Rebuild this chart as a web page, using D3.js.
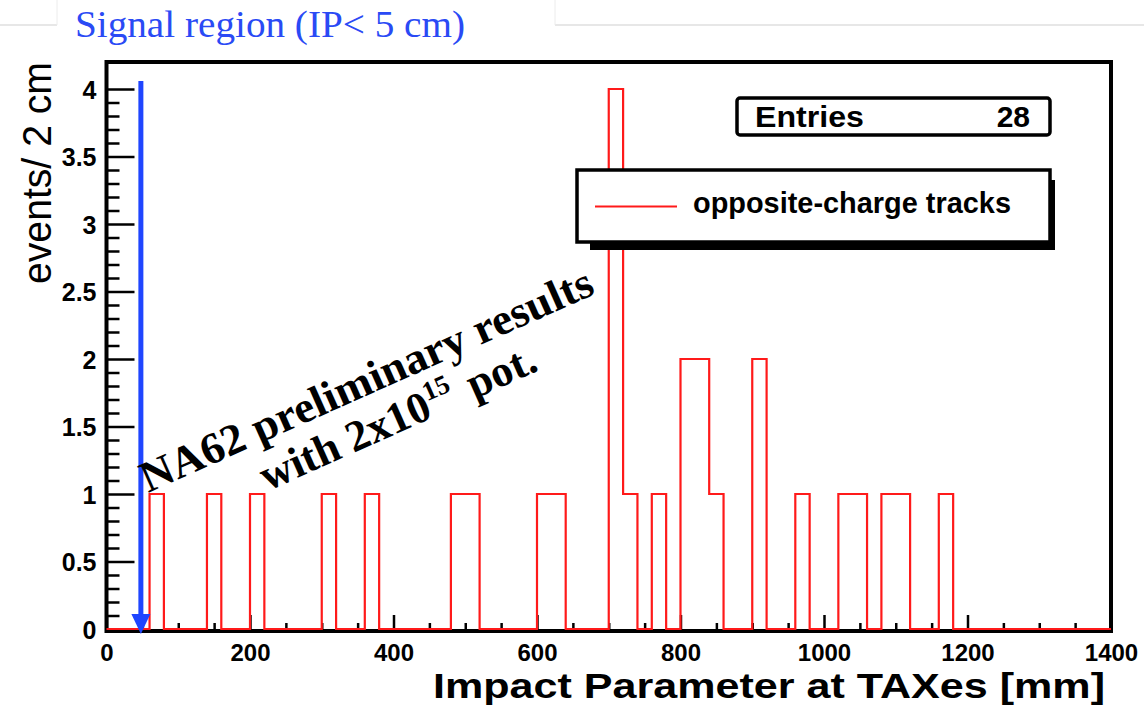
<!DOCTYPE html>
<html>
<head>
<meta charset="utf-8">
<script src="https://cdn.jsdelivr.net/npm/d3@7"></script>
<style>
  body { margin: 0; background: #fff; }
  svg { display: block; }
  .sans { font-family: "Liberation Sans", Arial, Helvetica, sans-serif; }
  .serif { font-family: "Liberation Serif", "Times New Roman", serif; }
</style>
</head>
<body>
<svg width="1144" height="705"></svg>
<script>
// --- data (bins are 20 mm wide, only non-empty bins listed) ---
const binWidth = 20;
const binStarts = [60, 140, 200, 300, 360, 480, 500, 600, 620, 700, 720, 760, 800, 820, 840, 900, 960, 1020, 1040, 1080, 1100, 1160];
const binCounts = [1, 1, 1, 1, 1, 1, 1, 1, 1, 4, 1, 1, 2, 2, 1, 2, 1, 1, 1, 1, 1, 1];
const xDomain = [0, 1400];
const yDomain = [0, 4.2];
const xMajor = [0, 200, 400, 600, 800, 1000, 1200, 1400];
const yMajor = [0, 0.5, 1, 1.5, 2, 2.5, 3, 3.5, 4];
const signalCut = 50; // mm, IP < 5 cm
const entries = 28;

const svg = d3.select("svg");
const x = d3.scaleLinear().domain(xDomain).range([106.5, 1111]);
const y = d3.scaleLinear().domain(yDomain).range([629, 62]);

// faint slide lines at the top
svg.append("line").attr("x1", 0).attr("x2", 57).attr("y1", 25).attr("y2", 25).attr("stroke", "#cfcfcf").attr("stroke-width", 1.2);
svg.append("line").attr("x1", 555).attr("x2", 1144).attr("y1", 25).attr("y2", 25).attr("stroke", "#cfcfcf").attr("stroke-width", 1.2);
svg.append("line").attr("x1", 57).attr("x2", 57).attr("y1", 0).attr("y2", 25).attr("stroke", "#ececec").attr("stroke-width", 1);
svg.append("line").attr("x1", 555).attr("x2", 555).attr("y1", 0).attr("y2", 25).attr("stroke", "#ececec").attr("stroke-width", 1);

svg.append("text").attr("class", "serif")
  .attr("x", 75).attr("y", 37)
  .attr("font-size", 38).attr("fill", "#2a4af5")
  .attr("textLength", 390).attr("lengthAdjust", "spacingAndGlyphs")
  .text("Signal region (IP< 5 cm)");

// --- histogram (full 70 bins) ---
const nBins = (xDomain[1] - xDomain[0]) / binWidth;
const counts = d3.range(nBins).map(i => {
  const k = binStarts.indexOf(xDomain[0] + i * binWidth);
  return k >= 0 ? binCounts[k] : 0;
});
const pts = counts.map((c, i) => [xDomain[0] + i * binWidth, c]);
pts.push([xDomain[1], counts[nBins - 1]]);

// ticks
const gx = svg.append("g").attr("transform", "translate(0," + y(0) + ")");
gx.append("g").call(d3.axisBottom(x).tickValues(d3.range(0, 1401, 50).filter(v => v % 200)).tickSize(-6).tickFormat(""))
  .call(a => a.select(".domain").remove());
gx.append("g").call(d3.axisBottom(x).tickValues(xMajor).tickSize(-14).tickFormat(d => d))
  .call(a => a.select(".domain").remove())
  .call(a => a.selectAll("text").attr("y", 32).attr("dy", null)
    .attr("class", "sans").attr("font-size", 24).attr("font-weight", "bold").attr("fill", "#000"));
gx.selectAll("line").attr("stroke", "#000").attr("stroke-width", 2.5);

const gy = svg.append("g").attr("transform", "translate(" + x(0) + ",0)");
gy.append("g").call(d3.axisLeft(y).tickValues(d3.range(0, 41).map(v => v / 10).filter(v => Math.round(v * 10) % 5)).tickSize(-13).tickFormat(""))
  .call(a => a.select(".domain").remove());
gy.append("g").call(d3.axisLeft(y).tickValues(yMajor).tickSize(-28).tickPadding(10).tickFormat(d => String(d)))
  .call(a => a.select(".domain").remove())
  .call(a => a.selectAll("text").attr("dy", "0.36em")
    .attr("class", "sans").attr("font-size", 25).attr("font-weight", "bold").attr("fill", "#000"));
gy.selectAll("line").attr("stroke", "#000").attr("stroke-width", 2.5);

// frame
svg.append("rect")
  .attr("x", x(xDomain[0])).attr("y", y(yDomain[1]))
  .attr("width", x(xDomain[1]) - x(xDomain[0])).attr("height", y(0) - y(yDomain[1]) + 2)
  .attr("fill", "none").attr("stroke", "#000").attr("stroke-width", 4);

svg.append("path").datum(pts)
  .attr("d", d3.line().x(d => x(d[0])).y(d => y(d[1])).curve(d3.curveStepAfter))
  .attr("fill", "none").attr("stroke", "#ff1a1a").attr("stroke-width", 2.2);

// stats box
svg.append("rect").attr("x", 737).attr("y", 98).attr("width", 313).attr("height", 37).attr("rx", 3)
  .attr("fill", "#fff").attr("stroke", "#000").attr("stroke-width", 3.5);
svg.append("text").attr("class", "sans").attr("x", 755).attr("y", 127)
  .attr("font-size", 30).attr("font-weight", "bold")
  .attr("textLength", 109).attr("lengthAdjust", "spacingAndGlyphs").text("Entries");
svg.append("text").attr("class", "sans").attr("x", 1030).attr("y", 127).attr("text-anchor", "end")
  .attr("font-size", 30).attr("font-weight", "bold").text(entries);

// legend with shadow
svg.append("rect").attr("x", 590).attr("y", 180).attr("width", 465).attr("height", 70).attr("fill", "#000");
svg.append("rect").attr("x", 577).attr("y", 170).attr("width", 473).attr("height", 72)
  .attr("fill", "#fff").attr("stroke", "#000").attr("stroke-width", 3.5);
svg.append("line").attr("x1", 595).attr("x2", 677).attr("y1", 206.5).attr("y2", 206.5)
  .attr("stroke", "#ff1a1a").attr("stroke-width", 2.2);
svg.append("text").attr("class", "sans").attr("x", 693).attr("y", 213)
  .attr("font-size", 29).attr("font-weight", "bold")
  .attr("textLength", 318).attr("lengthAdjust", "spacingAndGlyphs")
  .text("opposite-charge tracks");

// axis titles
svg.append("text").attr("class", "sans").attr("x", 433).attr("y", 698)
  .attr("font-size", 35).attr("font-weight", "bold")
  .attr("textLength", 672).attr("lengthAdjust", "spacingAndGlyphs")
  .text("Impact Parameter at TAXes [mm]");
svg.append("text").attr("class", "sans")
  .attr("transform", "translate(51,62) rotate(-90)")
  .attr("text-anchor", "end").attr("font-size", 41)
  .attr("textLength", 222).attr("lengthAdjust", "spacingAndGlyphs")
  .text("events/ 2 cm");

// signal region arrow
const ax = x(signalCut) - 1.5;
svg.append("line").attr("x1", ax).attr("x2", ax).attr("y1", 81).attr("y2", 618)
  .attr("stroke", "#1f45ff").attr("stroke-width", 5);
svg.append("path")
  .attr("d", "M" + (ax - 9.5) + ",614L" + (ax + 9.5) + ",614L" + ax + ",634Z")
  .attr("fill", "#1f45ff");

// rotated annotation
const note = svg.append("g").attr("transform", "translate(148,493) rotate(-24)");
note.append("text").attr("class", "serif")
  .attr("font-size", 44).attr("font-weight", "bold")
  .attr("textLength", 491).attr("lengthAdjust", "spacingAndGlyphs")
  .text("NA62 preliminary results");
const l2 = note.append("text").attr("class", "serif")
  .attr("x", 110).attr("y", 47)
  .attr("font-size", 44).attr("font-weight", "bold");
l2.append("tspan").text("with 2x10");
l2.append("tspan").attr("font-size", 27).attr("dy", -17).text("15");
l2.append("tspan").attr("dy", 17).attr("dx", 6).text(" pot.");
</script>
</body>
</html>
